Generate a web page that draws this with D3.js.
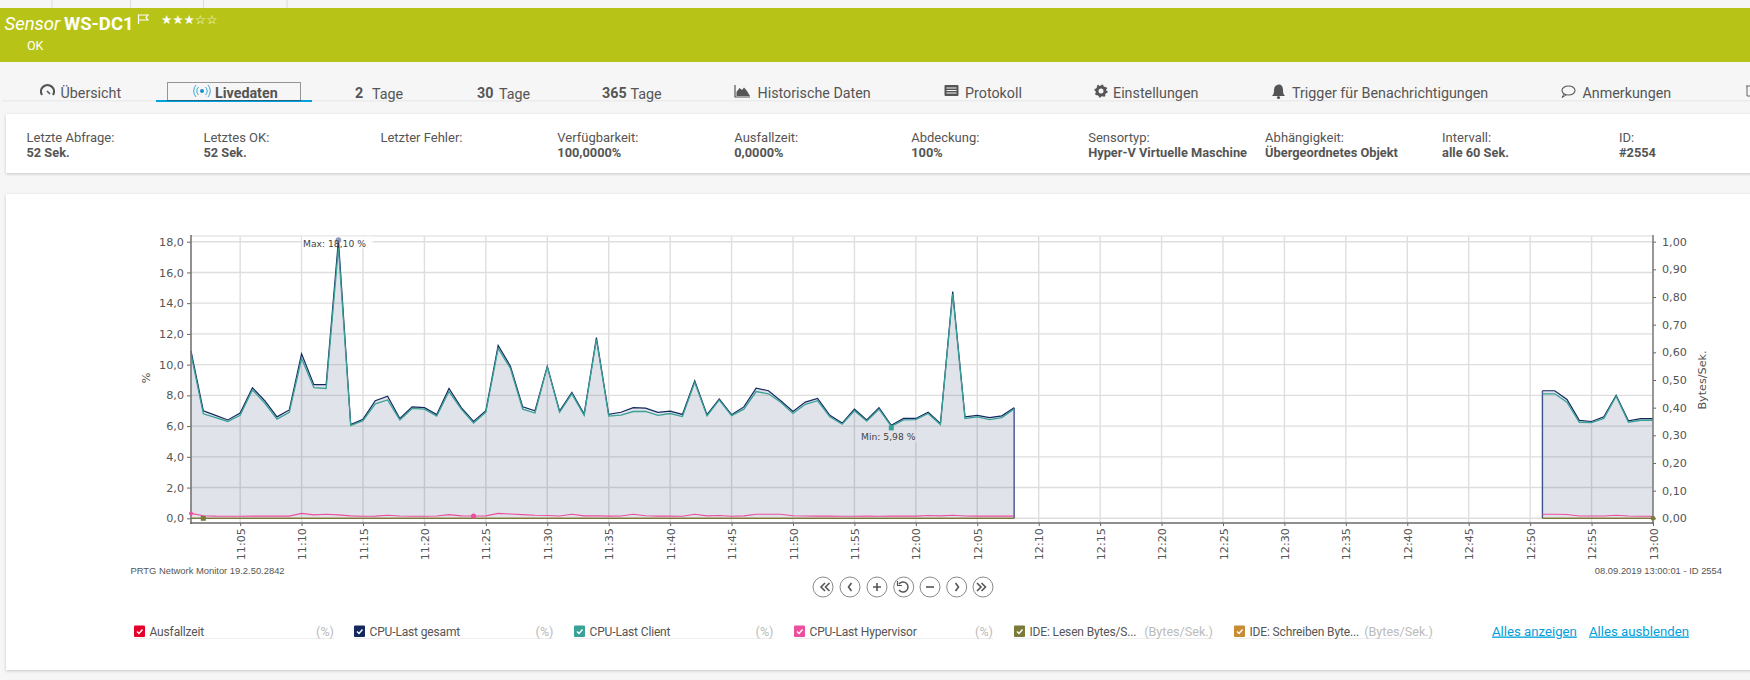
<!DOCTYPE html>
<html lang="de">
<head>
<meta charset="utf-8">
<title>Sensor WS-DC1</title>
<script src="https://cdn.jsdelivr.net/npm/d3@7"></script>
<style>
html,body{margin:0;padding:0;background:#f6f6f6;overflow:hidden}
svg{display:block}
text{font-family:Roboto,"Open Sans",sans-serif;fill:#555}
.tick text,.chartfont{font-family:"DejaVu Sans",sans-serif}
</style>
</head>
<body>
<div id="chart"></div>
<script>
// ---------- data ----------
const segmentOneStart = "11:01";
const segmentTwoStart = "12:51";
const cpuTotalOne = [10.9,7.0,6.7,6.4,6.85,8.5,7.65,6.6,7.05,10.7,8.7,8.7,18.1,6.1,6.45,7.65,7.95,6.5,7.25,7.2,6.75,8.45,7.2,6.3,7.0,11.25,9.9,7.25,7.0,9.9,6.97,8.2,6.78,11.76,6.76,6.9,7.2,7.17,6.9,6.97,6.76,8.95,6.74,7.77,6.74,7.25,8.47,8.3,7.65,6.95,7.56,7.8,6.7,6.2,7.1,6.4,7.2,6.05,6.5,6.5,6.9,6.17,14.75,6.6,6.7,6.55,6.67,7.2];
const cpuClientOne = [10.7,6.8,6.55,6.3,6.7,8.35,7.5,6.45,6.9,10.4,8.5,8.45,17.6,6.03,6.35,7.45,7.7,6.4,7.15,7.1,6.65,8.25,7.1,6.2,6.9,11.05,9.75,7.1,6.85,9.85,6.9,8.1,6.7,11.65,6.65,6.72,6.95,6.95,6.7,6.82,6.62,8.85,6.66,7.7,6.68,7.1,8.25,8.1,7.55,6.82,7.42,7.65,6.6,6.12,7.0,6.32,7.1,5.98,6.4,6.42,6.82,6.1,14.6,6.5,6.6,6.42,6.55,7.12];
const hypervisorOne = [0.32,0.17,0.14,0.13,0.13,0.14,0.15,0.14,0.14,0.32,0.22,0.26,0.22,0.16,0.13,0.14,0.2,0.15,0.13,0.13,0.15,0.24,0.16,0.15,0.16,0.32,0.28,0.24,0.2,0.18,0.15,0.26,0.16,0.17,0.14,0.15,0.26,0.17,0.14,0.15,0.13,0.26,0.16,0.18,0.13,0.16,0.26,0.26,0.26,0.17,0.15,0.14,0.15,0.13,0.13,0.14,0.13,0.15,0.14,0.14,0.18,0.16,0.2,0.15,0.14,0.14,0.14,0.14];
const cpuTotalTwo = [8.3,8.3,7.73,6.37,6.3,6.6,8.0,6.35,6.48,6.48];
const cpuClientTwo = [8.1,8.1,7.55,6.25,6.22,6.5,7.95,6.25,6.38,6.38];
const hypervisorTwo = [0.26,0.26,0.25,0.15,0.15,0.15,0.2,0.15,0.13,0.13];
const leftTicks = [0,2,4,6,8,10,12,14,16,18];
const rightTicks = [0,0.1,0.2,0.3,0.4,0.5,0.6,0.7,0.8,0.9,1];
const timeTickLabels = ["11:05","11:10","11:15","11:20","11:25","11:30","11:35","11:40","11:45","11:50","11:55","12:00","12:05","12:10","12:15","12:20","12:25","12:30","12:35","12:40","12:45","12:50","12:55","13:00"];
const legendNames = ["Ausfallzeit","CPU-Last gesamt","CPU-Last Client","CPU-Last Hypervisor","IDE: Lesen Bytes/S...","IDE: Schreiben Byte..."];
const legendUnits = ["(%)","(%)","(%)","(%)","(Bytes/Sek.)","(Bytes/Sek.)"];
const infoLabels = ["Letzte Abfrage:","Letztes OK:","Letzter Fehler:","Verfügbarkeit:","Ausfallzeit:","Abdeckung:","Sensortyp:","Abhängigkeit:","Intervall:","ID:"];
const infoValues = ["52 Sek.","52 Sek.","","100,0000%","0,0000%","100%","Hyper-V Virtuelle Maschine","Übergeordnetes Objekt","alle 60 Sek.","#2554"];

// ---------- layout ----------
const W = 1750, H = 680;
const colors = {red:"#e4002b",navy:"#14275f",teal:"#3aa198",pink:"#ec4f9e",olive:"#7a7a3a",orange:"#c98b34"};
const svg = d3.select("#chart").append("svg").attr("width",W).attr("height",H);
const defs = svg.append("defs");
const f = defs.append("filter").attr("id","sh").attr("x","-2%").attr("y","-5%").attr("width","104%").attr("height","112%");
f.append("feDropShadow").attr("dx",0).attr("dy",1).attr("stdDeviation",1.6).attr("flood-color","#000").attr("flood-opacity",0.2);

// top strip
svg.selectAll(".strip").data([52,130.5,203.5,287]).join("line")
  .attr("x1",d=>d).attr("x2",d=>d).attr("y1",0).attr("y2",8).attr("stroke","#dcdcdc");
// banner
svg.append("rect").attr("x",0).attr("y",8).attr("width",W).attr("height",54).attr("fill","#b7c417");
svg.append("text").attr("x",4.5).attr("y",30).attr("font-size",18.5).attr("font-style","italic").attr("font-family","Roboto").style("fill","#fff").text("Sensor");
svg.append("text").attr("x",64).attr("y",30).attr("font-size",18.5).attr("font-weight",700).style("fill","#fff").text("WS-DC1");
svg.append("path").attr("d","M138.5 24V15h9.500l-2 2.500 2 2.500h-9.500").attr("fill","none").attr("stroke","#fff").attr("stroke-width",1.2);
svg.append("text").attr("x",161).attr("y",23.5).attr("font-size",12.6).style("font-family","DejaVu Sans").style("fill","#fff").text("★★★☆☆");
svg.append("text").attr("x",27).attr("y",49.5).attr("font-size",12.5).style("fill","#fff").text("OK");

// tabs
svg.append("rect").attr("x",2).attr("y",100).attr("width",W-2).attr("height",1.6).attr("fill","#ececec");
svg.append("rect").attr("x",156).attr("y",100).attr("width",156).attr("height",2).attr("fill","#00a0dc");
svg.append("rect").attr("x",167.5).attr("y",82.5).attr("width",133).attr("height",18).attr("fill","none").attr("stroke","#333").attr("stroke-dasharray","1 1");
const tabFont = 14.3, tabY = 97.5;
const tabTexts = [["Übersicht",60.5,400],["Livedaten",215,700],["Historische Daten",757.5,400],["Protokoll",965,400],["Einstellungen",1113,400],["Trigger für Benachrichtigungen",1292,400],["Anmerkungen",1582.5,400]];
svg.selectAll(".tab").data(tabTexts).join("text").attr("x",d=>d[1]).attr("y",tabY).attr("font-size",tabFont).attr("font-weight",d=>d[2]).text(d=>d[0]);
[["2",355,"Tage",372],["30",477,"Tage",499],["365",602,"Tage",630.5]].forEach(t=>{
  svg.append("text").attr("x",t[1]).attr("y",98).attr("font-size",14.3).attr("font-weight",700).text(t[0]);
  svg.append("text").attr("x",t[3]).attr("y",98.5).attr("font-size",14.3).text(t[2]);
});
// tab icons
svg.append("path").attr("d","M42 95a6.5 6.5 0 1 1 11 0").attr("fill","none").attr("stroke","#555").attr("stroke-width",2.2);
svg.append("path").attr("d","M47 91l3 3").attr("stroke","#555").attr("stroke-width",1.6);
svg.append("circle").attr("cx",202).attr("cy",91).attr("r",2).attr("fill","#1c8fd0");
svg.append("path").attr("d","M198.5 87a5.5 5.5 0 0 0 0 8M205.5 87a5.5 5.5 0 0 1 0 8M196 85a9 9 0 0 0 0 12M208 85a9 9 0 0 1 0 12").attr("fill","none").attr("stroke","#3aa8dc").attr("stroke-width",1);
svg.append("path").attr("d","M735 85v12h15").attr("fill","none").attr("stroke","#555").attr("stroke-width",1.2);
svg.append("path").attr("d","M736.5 96v-4l3-4 2.5 2 2-2.5 3 3.5 3 5z").attr("fill","#555");
svg.append("rect").attr("x",944.5).attr("y",85).attr("width",14).attr("height",11).attr("rx",1).attr("fill","#555");
svg.selectAll(".pl").data([87.5,90,92.5]).join("rect").attr("x",946.5).attr("y",d=>d).attr("width",10).attr("height",1).attr("fill","#f6f6f6");
svg.append("circle").attr("cx",1101).attr("cy",91).attr("r",4).attr("fill","none").attr("stroke","#555").attr("stroke-width",3);
svg.append("circle").attr("cx",1101).attr("cy",91).attr("r",5.8).attr("fill","none").attr("stroke","#555").attr("stroke-width",1.6).attr("stroke-dasharray","2 2.5");
svg.append("path").attr("d","M1272 96c2-2 2-4 2-6 0-3 1.5-5 4.5-5.500s4.500 2.500 4.500 5.500c0 2 0 4 2 6z").attr("fill","#555");
svg.append("circle").attr("cx",1278.5).attr("cy",97.5).attr("r",1.6).attr("fill","#555");
svg.append("ellipse").attr("cx",1568.5).attr("cy",90.5).attr("rx",6.5).attr("ry",4.5).attr("fill","none").attr("stroke","#555").attr("stroke-width",1.1);
svg.append("path").attr("d","M1564 94l-2 3.500 4-2.500").attr("fill","none").attr("stroke","#555").attr("stroke-width",1);
svg.append("path").attr("d","M1746 86h4M1747 86v10h3").attr("fill","none").attr("stroke","#666");

// cards
svg.append("rect").attr("x",6).attr("y",114).attr("width",W).attr("height",59).attr("fill","#fff").attr("filter","url(#sh)");
svg.append("rect").attr("x",6).attr("y",194).attr("width",W).attr("height",476).attr("fill","#fff").attr("filter","url(#sh)");

// info row
const infoX = d3.scaleLinear().domain([0,9]).range([26.5,1619]);
svg.selectAll(".il").data(infoLabels).join("text").attr("x",(d,i)=>infoX(i)).attr("y",142).attr("font-size",13).text(d=>d);
svg.selectAll(".iv").data(infoValues).join("text").attr("x",(d,i)=>infoX(i)).attr("y",157).attr("font-size",12.8).attr("font-weight",700).text(d=>d);

// ---------- chart ----------
const parse = d3.timeParse("%H:%M");
const x = d3.scaleTime().domain([parse("11:01"),parse("13:00")]).range([191,1653]);
const yL = d3.scaleLinear().domain([0,18]).range([518.3,241.7]);
const yR = d3.scaleLinear().domain([0,1]).range([518.3,241.7]);
const plotTop = 236, plotBottom = 523;
const series = (start,vals)=>vals.map((v,i)=>({t:d3.timeMinute.offset(parse(start),i),v}));
const seg1 = {total:series(segmentOneStart,cpuTotalOne),client:series(segmentOneStart,cpuClientOne),hyper:series(segmentOneStart,hypervisorOne)};
const seg2 = {total:series(segmentTwoStart,cpuTotalTwo),client:series(segmentTwoStart,cpuClientTwo),hyper:series(segmentTwoStart,hypervisorTwo)};
const tickDates = timeTickLabels.map(parse);

// grid
const grid = svg.append("g");
grid.selectAll(".gh").data(leftTicks).join("line").attr("x1",191).attr("x2",1653).attr("y1",d=>yL(d)).attr("y2",d=>yL(d)).attr("stroke","#dedede").attr("stroke-width",1.4);
grid.selectAll(".gv").data(tickDates).join("line").attr("x1",d=>x(d)).attr("x2",d=>x(d)).attr("y1",plotTop).attr("y2",plotBottom).attr("stroke","#dedede").attr("stroke-width",1.4);
grid.append("line").attr("x1",191).attr("x2",1653).attr("y1",plotTop).attr("y2",plotTop).attr("stroke","#e6e6e6").attr("stroke-width",1.6);

// label boxes sit under the series so the peak stays visible through them
svg.append("rect").attr("x",302).attr("y",236.5).attr("width",71).attr("height",12).attr("fill","#fff").attr("fill-opacity",0.85);
svg.append("rect").attr("x",858).attr("y",429.5).attr("width",65).attr("height",13).attr("fill","#fff").attr("fill-opacity",0.6);

const area = d3.area().x(d=>x(d.t)).y0(yL(0)).y1(d=>yL(d.v));
const line = d3.line().x(d=>x(d.t)).y(d=>yL(d.v));
[seg1,seg2].forEach(s=>{
  svg.append("path").datum(s.total).attr("d",area).attr("fill","#14275f").attr("fill-opacity",0.13);
});
// vertical edges of the filled segments
[[seg1.total,seg1.total.length-1],[seg2.total,0]].forEach(([s,i])=>{
  svg.append("line").attr("x1",x(s[i].t)).attr("x2",x(s[i].t)).attr("y1",yL(s[i].v)).attr("y2",yL(0)).attr("stroke","#3f5189").attr("stroke-width",1.4);
});
[seg1,seg2].forEach(s=>{
  const zero = s.total.map(d=>({t:d.t,v:0}));
  svg.append("path").datum(s.hyper).attr("d",line).attr("fill","none").attr("stroke",colors.pink).attr("stroke-width",1.1);
  svg.append("path").datum(zero).attr("d",line).attr("fill","none").attr("stroke",colors.orange).attr("stroke-width",1);
  svg.append("path").datum(zero).attr("d",line).attr("fill","none").attr("stroke",colors.olive).attr("stroke-width",1.2);
  svg.append("path").datum(s.total).attr("d",line).attr("fill","none").attr("stroke",colors.navy).attr("stroke-width",1.2);
  svg.append("path").datum(s.client).attr("d",line).attr("fill","none").attr("stroke",colors.teal).attr("stroke-width",1.3);
});

// axes
const tf2 = d3.format(".2f"), tf1 = d3.format(".1f");
const comma = s=>s.replace(".",",");
const axL = d3.axisLeft(yL).tickValues(leftTicks).tickFormat(d=>comma(tf1(d))).tickSize(4).tickPadding(3);
const axR = d3.axisRight(yR).tickValues(rightTicks).tickFormat(d=>comma(tf2(d))).tickSize(3).tickPadding(6);
const axB = d3.axisBottom(x).tickValues(tickDates).tickFormat(d3.timeFormat("%H:%M")).tickSize(3);
function styleAxis(g){
  g.select(".domain").remove();
  g.selectAll(".tick line").attr("stroke","#666");
  g.selectAll(".tick text").attr("font-size",11.2).style("fill","#555");
}
svg.append("g").attr("transform","translate(191,0)").call(axL).call(styleAxis);
svg.append("g").attr("transform","translate(1653,0)").call(axR).call(styleAxis);
const bx = svg.append("g").attr("transform",`translate(0,${plotBottom})`).call(axB).call(styleAxis);
bx.selectAll(".tick text").attr("transform","rotate(-90)").attr("text-anchor","end").attr("x",-5).attr("y",0).attr("dy","0.36em");
svg.append("line").attr("x1",191).attr("x2",191).attr("y1",plotTop-1).attr("y2",plotBottom+1).attr("stroke","#757575").attr("stroke-width",1.6);
svg.append("line").attr("x1",1653).attr("x2",1653).attr("y1",plotTop-1).attr("y2",plotBottom+1).attr("stroke","#757575").attr("stroke-width",1.4);
svg.append("line").attr("x1",190).attr("x2",1654).attr("y1",plotBottom).attr("y2",plotBottom).attr("stroke","#6a6a6a").attr("stroke-width",1.4);
svg.append("text").attr("class","chartfont").attr("transform","translate(150,378) rotate(-90)").attr("text-anchor","middle").attr("font-size",11.2).text("%");
svg.append("text").attr("class","chartfont").attr("transform","translate(1705.5,380) rotate(-90)").attr("text-anchor","middle").attr("font-size",11.2).text("Bytes/Sek.");

// min / max markers
const maxPt = seg1.total[12], minPt = seg1.client[57];
svg.append("circle").attr("cx",x(maxPt.t)).attr("cy",yL(maxPt.v)).attr("r",2.8).attr("fill","#8f9cb8");
svg.append("text").attr("class","chartfont").attr("x",303).attr("y",247).attr("font-size",9.2).style("fill","#444").text("Max: 18,10 %");
svg.append("rect").attr("x",x(minPt.t)-2.5).attr("y",yL(minPt.v)-1).attr("width",5).attr("height",5).attr("fill",colors.teal);
svg.append("text").attr("class","chartfont").attr("x",861).attr("y",440).attr("font-size",9.2).style("fill","#444").text("Min: 5,98 %");
svg.append("rect").attr("x",x(seg1.total[1].t)-2.5).attr("y",yL(0)-2.5).attr("width",5).attr("height",5).attr("fill",colors.olive);
svg.append("circle").attr("cx",x(seg1.hyper[23].t)).attr("cy",yL(seg1.hyper[23].v)).attr("r",2.6).attr("fill",colors.pink);
svg.append("circle").attr("cx",x(seg1.hyper[0].t)).attr("cy",yL(seg1.hyper[0].v)).attr("r",2).attr("fill",colors.pink);
svg.append("circle").attr("cx",x(seg2.total[9].t)).attr("cy",yL(0)).attr("r",2.4).attr("fill",colors.olive);

// footer texts
svg.append("text").attr("x",130.5).attr("y",573.5).attr("font-size",9.4).style("font-family","Liberation Sans").text("PRTG Network Monitor 19.2.50.2842");
svg.append("text").attr("x",1722).attr("y",573.5).attr("text-anchor","end").attr("font-size",9.4).style("font-family","Liberation Sans").text("08.09.2019 13:00:01 - ID 2554");

// navigation buttons
const btnX = [823,850,877,903.7,930,956.7,983];
const glyphs = ["M825-4l-4 4 4 4M829.500-4l-4 4 4 4","M851.500-4l-3 4 3 4","M873 0h8M877-4v8","","M926 0h8","M955.500-4l3 4-3 4","M977-4l4 4-4 4M981.500-4l4 4-4 4"];
btnX.forEach((bxv,i)=>{
  svg.append("circle").attr("cx",bxv).attr("cy",587).attr("r",10).attr("fill","#fff").attr("stroke","#8a8a8a").attr("stroke-width",1);
  if(glyphs[i]) svg.append("path").attr("transform","translate(0,587)").attr("d",glyphs[i]).attr("fill","none").attr("stroke","#555").attr("stroke-width",1.6);
});
svg.append("path").attr("d","M899 584a5 5 0 1 1 0 6").attr("fill","none").attr("stroke","#555").attr("stroke-width",1.5);
svg.append("path").attr("d","M897.500 581v4.500h4.500").attr("fill","none").attr("stroke","#555").attr("stroke-width",1.2);

// legend
const legColors = [colors.red,colors.navy,colors.teal,colors.pink,colors.olive,colors.orange];
const legX = [134,354,574,794,1014,1234], legUnitEnd = [334,553.5,773.5,993,1213,1433];
const lg = svg.selectAll(".lg").data(legendNames).join("g");
lg.append("line").attr("x1",(d,i)=>legX[i]).attr("x2",(d,i)=>legUnitEnd[i]).attr("y1",638.5).attr("y2",638.5).attr("stroke","#eeeeee");
lg.append("rect").attr("x",(d,i)=>legX[i]).attr("y",625.5).attr("width",11).attr("height",11.5).attr("rx",1).attr("fill",(d,i)=>legColors[i]);
lg.append("path").attr("d",(d,i)=>`M${legX[i]+3} 631.5l2 2 3.5-4`).attr("fill","none").attr("stroke","#fff").attr("stroke-width",1.4);
lg.append("text").attr("x",(d,i)=>legX[i]+15.5).attr("y",635.5).attr("font-size",12).attr("letter-spacing",-0.15).text(d=>d);
lg.append("text").attr("x",(d,i)=>legUnitEnd[i]).attr("y",635.5).attr("text-anchor","end").attr("font-size",12.6).style("fill","#bbb").text((d,i)=>legendUnits[i]);
svg.append("text").attr("x",1492).attr("y",635.5).attr("font-size",13.2).attr("text-decoration","underline").style("fill","#00a0dc").text("Alles anzeigen");
svg.append("text").attr("x",1589).attr("y",635.5).attr("font-size",13.2).attr("text-decoration","underline").style("fill","#00a0dc").text("Alles ausblenden");
</script>
</body>
</html>
